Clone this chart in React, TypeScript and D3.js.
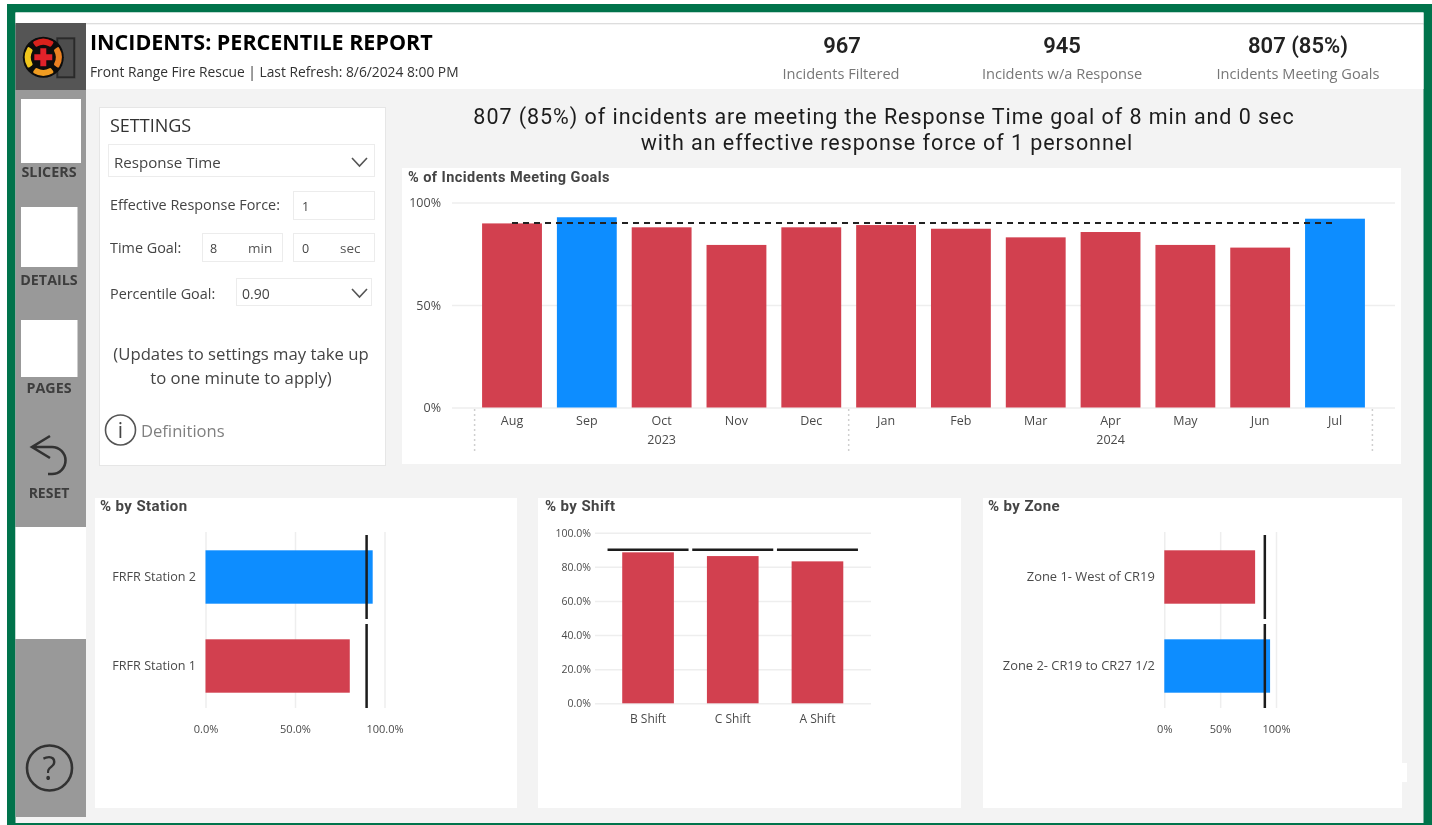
import { useEffect, useRef } from 'react';
import * as d3 from 'd3';

// values
const goal = 0.9;
const months = ['Aug', 'Sep', 'Oct', 'Nov', 'Dec', 'Jan', 'Feb', 'Mar', 'Apr', 'May', 'Jun', 'Jul'];
const monthValues = [0.898, 0.928, 0.879, 0.793, 0.879, 0.89, 0.872, 0.83, 0.856, 0.793, 0.78, 0.921];
const years = ['2023', '2024'];
const monthsPerYear = [5, 7];
const stations = ['FRFR Station 2', 'FRFR Station 1'];
const stationValues = [0.934, 0.806];
const shifts = ['B Shift', 'C Shift', 'A Shift'];
const shiftValues = [0.885, 0.863, 0.832];
const zones = ['Zone 1- West of CR19', 'Zone 2- CR19 to CR27 1/2'];
const zoneValues = [0.813, 0.947];
const kpiValues = ['967', '945', '807 (85%)'];
const kpiLabels = ['Incidents Filtered', 'Incidents w/a Response', 'Incidents Meeting Goals'];

const RED = '#d2404f';
const BLUE = '#118dff';
const GREEN = '#06734c';
const GRID = '#eeeeee';
const BODY = 'Open Sans';
const DIN = 'Roboto';

const barColor = (v: number) => (v >= goal ? BLUE : RED);

const styleAxis = (g: any, size: number, color = '#4a4a4a') => {
    g.select('.domain').remove();
    g.selectAll('.tick line').attr('stroke', GRID).attr('stroke-width', 1.5);
    g.selectAll('.tick text').attr('font-family', BODY).attr('font-size', size).attr('fill', color);
};

const App = () => {
    const svgRef = useRef<SVGSVGElement>(null);

    useEffect(() => {
        const root = d3.select(svgRef.current);
        root.selectAll('*').remove(); // Clear previous content

        // the source is a soft, upscaled screenshot
        root.append('defs').append('filter').attr('id', 'soft')
            .attr('filterUnits', 'userSpaceOnUse')
            .attr('x', 0).attr('y', 0).attr('width', 1432).attr('height', 825)
            .append('feGaussianBlur').attr('stdDeviation', 0.4);
        const svg = root.append('g').attr('filter', 'url(#soft)');

        const rect = (x: number, y: number, w: number, h: number, fill: string, stroke?: string) =>
            svg.append('rect').attr('x', x).attr('y', y).attr('width', w).attr('height', h)
                .attr('fill', fill).attr('stroke', stroke || 'none');

        const label = (x: number, y: number, str: string, size: number, fill: string, opts: any = {}) =>
            svg.append('text').attr('x', x).attr('y', y).text(str)
                .attr('font-family', opts.family || BODY).attr('font-size', size).attr('fill', fill)
                .attr('font-weight', opts.weight || 400).attr('text-anchor', opts.anchor || 'start')
                .attr('letter-spacing', opts.spacing || 0);

        const icon = (d: string, width = 1.6, color = '#555') =>
            svg.append('path').attr('d', d).attr('fill', 'none').attr('stroke', color).attr('stroke-width', width);

        // Frame and page
        rect(0, 0, 1432, 825, '#ffffff');
        rect(7, 4, 1425, 821, GREEN);
        rect(15.5, 12.5, 1408, 810.5, '#f3f3f3');
        rect(15.5, 12.5, 1408, 10.5, '#ffffff');
        rect(15.5, 23, 1408, 1.5, '#dddddd');
        rect(86, 24.5, 1337.5, 64.5, '#ffffff');

        // Side bar
        rect(15.5, 23, 70.5, 67, '#555555');
        rect(15.5, 90, 70.5, 437, '#999999');
        rect(15.5, 527, 70.5, 112, '#ffffff');
        rect(15.5, 639, 70.5, 178, '#999999');
        rect(21, 99, 60, 64, '#ffffff');
        rect(21, 207, 56.5, 60, '#ffffff');
        rect(21, 320, 56.5, 57, '#ffffff');
        label(49, 177, 'SLICERS', 14.3, '#3d3d3d', { anchor: 'middle', weight: 700 });
        label(49, 285, 'DETAILS', 14.3, '#3d3d3d', { anchor: 'middle', weight: 700 });
        label(49, 393, 'PAGES', 14.3, '#3d3d3d', { anchor: 'middle', weight: 700 });
        label(49, 498, 'RESET', 14, '#3d3d3d', { anchor: 'middle', weight: 700 });
        icon('M50 436 L32 447 L50 458 M32 447 H52 A13.5 13.5 0 0 1 52 474 H48', 2.6, '#333');
        svg.append('circle').attr('cx', 49.5).attr('cy', 768).attr('r', 22.5)
            .attr('fill', 'none').attr('stroke', '#333').attr('stroke-width', 2.6);
        label(49.5, 780, '?', 32, '#333', { anchor: 'middle' });

        // Logo
        const logo = svg.append('g').attr('transform', 'translate(43.3,57.3)');
        logo.append('rect').attr('x', 14).attr('y', -19).attr('width', 17).attr('height', 39)
            .attr('fill', '#4d4d4d').attr('stroke', '#2c2c2c').attr('stroke-width', 2);
        logo.append('circle').attr('r', 20.5).attr('fill', '#0c0c0c');
        const ringArc = d3.arc().innerRadius(12.5).outerRadius(18.5).cornerRadius(1.5);
        const ringColors = ['#d8201f', '#ea8020', '#f09c20', '#f1c61e'];
        ringColors.forEach((c, i) => {
            const mid = (i * Math.PI) / 2;
            logo.append('path').attr('fill', c)
                .attr('d', ringArc({ startAngle: mid - 0.62, endAngle: mid + 0.62 } as any));
        });
        logo.append('path').attr('d', 'M-3 -9 H3 V-3 H9 V3 H3 V9 H-3 V3 H-9 V-3 H-3 Z').attr('fill', '#e0202c');

        // Header
        label(90, 50, 'INCIDENTS: PERCENTILE REPORT', 21.5, '#000', { weight: 700 });
        label(90, 77, 'Front Range Fire Rescue | Last Refresh: 8/6/2024 8:00 PM', 13.8, '#333');
        const kpiX = [842, 1062, 1298];
        kpiValues.forEach((v, i) => {
            label(kpiX[i], 53, v, 22, '#222', { anchor: 'middle', weight: 600, family: DIN });
            label(kpiX[i] - (i === 0 ? 1 : 0), 79, kpiLabels[i], 14.6, '#777', { anchor: 'middle' });
        });

        // Headline
        label(884, 124, '807 (85%) of incidents are meeting the Response Time goal of 8 min and 0 sec', 21.5, '#1c1c1c',
            { anchor: 'middle', family: DIN, spacing: 0.95 });
        label(887, 150, 'with an effective response force of 1 personnel', 21.5, '#1c1c1c',
            { anchor: 'middle', family: DIN, spacing: 0.95 });

        // Settings panel
        rect(99.5, 107.5, 286, 358, '#ffffff', '#e6e6e6');
        label(110, 132, 'SETTINGS', 18, '#333');
        rect(108.5, 144.5, 266, 32, '#ffffff', '#ececec');
        label(114, 168, 'Response Time', 15.1, '#444');
        icon('M352 158 L359.5 166 L367 158');
        label(110, 210, 'Effective Response Force:', 14.4, '#444');
        rect(293.5, 191.5, 81, 28, '#ffffff', '#ececec');
        label(302, 211, '1', 12.5, '#444');
        label(110, 253, 'Time Goal:', 14.4, '#444');
        rect(202.5, 233.5, 80, 28, '#ffffff', '#ececec');
        label(210, 253, '8', 12.5, '#444');
        label(248, 253, 'min', 13.5, '#555');
        rect(293.5, 233.5, 81, 28, '#ffffff', '#ececec');
        label(302, 253, '0', 12.5, '#444');
        label(340, 253, 'sec', 13.5, '#555');
        label(110, 299, 'Percentile Goal:', 14.4, '#444');
        rect(236.5, 278.5, 135, 27, '#ffffff', '#ececec');
        label(242, 299, '0.90', 14, '#444');
        icon('M352 289 L359.5 297 L367 289');
        label(241, 360, '(Updates to settings may take up', 16.7, '#444', { anchor: 'middle' });
        label(241, 384, 'to one minute to apply)', 16.7, '#444', { anchor: 'middle' });
        svg.append('circle').attr('cx', 120.5).attr('cy', 430).attr('r', 15)
            .attr('fill', 'none').attr('stroke', '#555').attr('stroke-width', 1.6);
        label(120.5, 438, 'i', 21, '#444', { anchor: 'middle' });
        label(141, 437, 'Definitions', 16.6, '#808080');

        // Monthly chart
        rect(402, 168, 999, 296, '#ffffff');
        label(408, 182, '% of Incidents Meeting Goals', 14.5, '#444', { weight: 700, family: DIN, spacing: 0.45 });
        const xMonth = d3.scaleBand().domain(months).range([474.6, 1372.4]).paddingInner(0.2).paddingOuter(0.1);
        const yMonth = d3.scaleLinear().domain([0, 1]).range([407.5, 202.5]);
        svg.append('g').attr('transform', 'translate(452,0)')
            .call(d3.axisLeft(yMonth).tickValues([0, 0.5, 1]).tickFormat(d3.format('.0%')).tickSize(-943).tickPadding(11) as any)
            .call((g: any) => styleAxis(g, 12.5));
        svg.append('g').attr('transform', 'translate(0,407.5)')
            .call(d3.axisBottom(xMonth).tickSize(0).tickPadding(8.5) as any)
            .call((g: any) => styleAxis(g, 12.5));
        svg.append('g').selectAll('rect').data(months).enter().append('rect')
            .attr('x', d => xMonth(d) as number)
            .attr('y', (d, i) => yMonth(monthValues[i]))
            .attr('width', xMonth.bandwidth())
            .attr('height', (d, i) => yMonth(0) - yMonth(monthValues[i]))
            .attr('fill', (d, i) => barColor(monthValues[i]));
        const monthCenter = (m: string) => (xMonth(m) as number) + xMonth.bandwidth() / 2;
        svg.append('line')
            .attr('x1', monthCenter(months[0])).attr('x2', monthCenter(months[months.length - 1]))
            .attr('y1', yMonth(goal)).attr('y2', yMonth(goal))
            .attr('stroke', '#222').attr('stroke-width', 2).attr('stroke-dasharray', '6 5');
        // year groups under the months, with dotted separators
        let start = 0;
        const step = xMonth.step();
        const separators = [monthCenter(months[0]) - step / 2];
        years.forEach((yr, i) => {
            const end = start + monthsPerYear[i] - 1;
            label((monthCenter(months[start]) + monthCenter(months[end])) / 2, 444, yr, 12.5, '#4a4a4a', { anchor: 'middle' });
            separators.push(monthCenter(months[end]) + step / 2);
            start = end + 1;
        });
        separators.forEach(sx => {
            svg.append('line').attr('x1', sx).attr('x2', sx).attr('y1', 409).attr('y2', 451)
                .attr('stroke', '#cfcfcf').attr('stroke-width', 1.5).attr('stroke-dasharray', '2 3');
        });

        // Horizontal panels: station and zone
        const hPanel = (names: string[], values: number[], title: string, px: number, pw: number,
            titleX: number, x0: number, x1: number, fmt: string, catSize: number) => {
            rect(px, 498, pw, 310, '#ffffff');
            label(titleX, 511, title, 15, '#444', { weight: 700, family: DIN, spacing: 0.4 });
            const x = d3.scaleLinear().domain([0, 1]).range([x0, x1]);
            const y = d3.scaleBand().domain(names).range([532.5, 710.5]).paddingInner(0.4).paddingOuter(0.2);
            svg.append('g').attr('transform', 'translate(0,708)')
                .call(d3.axisBottom(x).tickValues([0, 0.5, 1]).tickFormat(d3.format(fmt)).tickSize(-176).tickPadding(17) as any)
                .call((g: any) => styleAxis(g, 11));
            svg.append('g').attr('transform', `translate(${x0},0)`)
                .call(d3.axisLeft(y).tickSize(0).tickPadding(9.5) as any)
                .call((g: any) => styleAxis(g, catSize));
            svg.append('g').selectAll('rect').data(names).enter().append('rect')
                .attr('x', x0)
                .attr('y', d => y(d) as number)
                .attr('width', (d, i) => x(values[i]) - x0)
                .attr('height', y.bandwidth())
                .attr('fill', (d, i) => barColor(values[i]));
            svg.append('g').selectAll('line').data(names).enter().append('line')
                .attr('x1', x(goal)).attr('x2', x(goal))
                .attr('y1', d => (y(d) as number) + y.bandwidth() / 2 - 42)
                .attr('y2', d => (y(d) as number) + y.bandwidth() / 2 + 42)
                .attr('stroke', '#1a1a1a').attr('stroke-width', 2.5);
        };
        hPanel(stations, stationValues, '% by Station', 95, 422, 100, 205.5, 384.5, '.1%', 12.6);
        hPanel(zones, zoneValues, '% by Zone', 983, 419, 988, 1164.3, 1276, '.0%', 12.9);
        rect(1402, 763, 5, 19, '#ffffff');

        // Shift chart
        rect(538, 498, 423, 310, '#ffffff');
        label(545, 511, '% by Shift', 15, '#444', { weight: 700, family: DIN, spacing: 0.4 });
        const xShift = d3.scaleBand().domain(shifts).range([605.7, 859.8]).paddingInner(0.39).paddingOuter(0.195);
        const yShift = d3.scaleLinear().domain([0, 1]).range([703.3, 532.7]);
        svg.append('g').attr('transform', 'translate(595,0)')
            .call(d3.axisLeft(yShift).tickValues([0, 0.2, 0.4, 0.6, 0.8, 1]).tickFormat(d3.format('.1%')).tickSize(-276).tickPadding(4) as any)
            .call((g: any) => styleAxis(g, 10.5));
        svg.append('g').attr('transform', 'translate(0,703.3)')
            .call(d3.axisBottom(xShift).tickSize(0).tickPadding(11) as any)
            .call((g: any) => styleAxis(g, 12));
        svg.append('g').selectAll('rect').data(shifts).enter().append('rect')
            .attr('x', d => xShift(d) as number)
            .attr('y', (d, i) => yShift(shiftValues[i]))
            .attr('width', xShift.bandwidth())
            .attr('height', (d, i) => yShift(0) - yShift(shiftValues[i]))
            .attr('fill', (d, i) => barColor(shiftValues[i]));
        svg.append('g').selectAll('line').data(shifts).enter().append('line')
            .attr('x1', d => (xShift(d) as number) + xShift.bandwidth() / 2 - 40.5)
            .attr('x2', d => (xShift(d) as number) + xShift.bandwidth() / 2 + 40.5)
            .attr('y1', yShift(goal)).attr('y2', yShift(goal))
            .attr('stroke', '#1a1a1a').attr('stroke-width', 2.5);
    }, []);

    return (
        <svg ref={svgRef} width={1432} height={825} style={{ position: 'absolute', left: 0, top: 0, display: 'block' }} />
    );
};

export default App;
